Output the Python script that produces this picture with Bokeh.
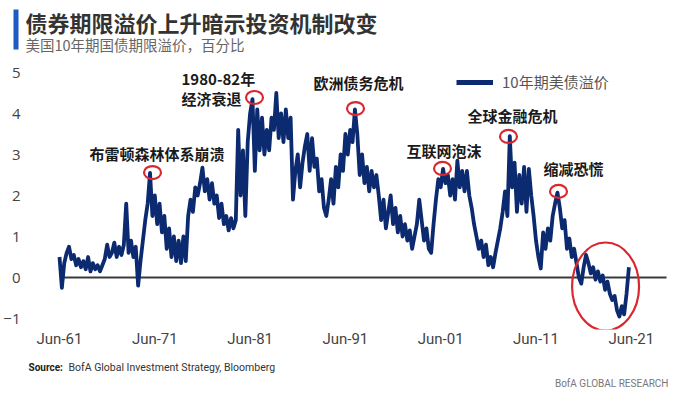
from bokeh.plotting import figure
from bokeh.layouts import column
from bokeh.models import (Label, BoxAnnotation, FixedTicker, Legend, LegendItem, Range1d)
from bokeh.embed import file_html
from bokeh.resources import INLINE

# ---------------- data ----------------
start_year = 1961.5   # Jun-1961
step = 0.25           # quarterly observations

term_premium = [
    0.5, -0.25,                 # 1961
    0.35, 0.6, 0.75, 0.45,      # 1962
    0.55, 0.3, 0.45, 0.25,      # 1963
    0.4, 0.2, 0.5, 0.15,        # 1964
    0.35, 0.2, 0.3, 0.15,       # 1965
    0.3, 0.45, 0.8, 0.5,        # 1966
    0.6, 0.85, 0.5, 0.75,       # 1967
    0.55, 0.8, 1.8, 0.6,        # 1968
    0.9, 0.5, 0.75, -0.2,       # 1969
    0.4, 0.9, 1.4, 1.8,         # 1970
    2.55, 1.5, 2.0, 1.3,        # 1971
    1.8, 1.1, 1.5, 0.7,         # 1972
    1.2, 0.5, 1.0, 0.4,         # 1973
    0.9, 0.35, 1.0, 0.4,        # 1974
    1.5, 1.9, 1.6, 2.2,         # 1975
    2.0, 2.3, 2.68, 2.1,        # 1976
    2.4, 1.9, 2.3, 1.8,         # 1977
    2.0, 1.45, 1.8, 1.3,        # 1978
    1.5, 1.15, 1.45, 1.2,       # 1979
    1.4, 3.6, 2.0, 3.1,         # 1980
    1.5, 3.3, 4.0, 4.35,        # 1981
    2.6, 4.1, 3.1, 3.9,         # 1982
    3.0, 3.6, 3.1, 3.9,         # 1983
    3.6, 4.5, 3.4, 4.0,         # 1984
    3.3, 4.1, 3.4, 3.9,         # 1985
    1.9, 2.6, 3.0, 2.2,         # 1986
    2.8, 3.2, 3.5, 2.6,         # 1987
    3.4, 2.7, 2.9, 2.1,         # 1988
    2.4, 1.7, 1.5, 1.9,         # 1989
    2.4, 1.8, 2.7, 2.2,         # 1990
    3.0, 2.6, 3.5, 3.0,         # 1991
    3.6, 3.3, 4.1, 3.5,         # 1992
    2.5, 3.0, 2.3, 2.7,         # 1993
    2.1, 2.6, 2.2, 2.5,         # 1994
    2.0, 1.4, 1.9, 1.2,         # 1995
    1.6, 2.0, 1.3, 1.7,         # 1996
    1.1, 1.5, 1.0, 1.3,         # 1997
    0.9, 1.15, 0.7, 1.0,        # 1998
    1.3, 1.9, 1.4, 0.9,         # 1999
    1.2, 0.7, 0.6, 1.3,         # 2000
    1.9, 2.4, 2.2, 2.65,        # 2001
    2.3, 2.5, 2.0, 2.4,         # 2002
    1.9, 2.85, 2.2, 2.6,        # 2003
    2.1, 2.6, 2.0, 1.7,         # 2004
    1.3, 1.0, 0.7, 0.9,         # 2005
    0.5, 0.8, 0.3, 0.5,         # 2006
    0.25, 0.6, 0.9, 1.2,        # 2007
    1.6, 2.1, 1.5, 3.45,        # 2008
    2.2, 2.8, 1.6, 2.5,         # 2009
    1.8, 2.7, 1.6, 2.65,        # 2010
    2.0, 1.5, 0.9, 0.5,         # 2011
    0.22, 1.1, 0.7, 1.2,        # 2012
    0.9, 1.5, 1.8, 2.07,        # 2013
    1.7, 1.2, 1.4, 0.7,         # 2014
    0.95, 0.5, 0.7, 0.35,       # 2015
    0.0, -0.15, 0.25, 0.55,     # 2016
    0.35, 0.1, 0.25, -0.05,     # 2017
    0.15, -0.1, 0.05, -0.3,     # 2018
    -0.1, -0.4, -0.55, -0.45,   # 2019
    -0.8, -0.95, -0.7, -0.9,    # 2020
    -0.4, 0.25,                 # 2021
]
years = [start_year + step * i for i in range(len(term_premium))]

tick_years = [1961.5, 1971.5, 1981.5, 1991.5, 2001.5, 2011.5, 2021.5]
tick_labels = ["Jun-61", "Jun-71", "Jun-81", "Jun-91", "Jun-01", "Jun-11", "Jun-21"]
y_ticks = [-1, 0, 1, 2, 3, 4, 5]

event_labels = ["布雷顿森林体系崩溃", "1980-82年\n经济衰退", "欧洲债务危机",
                "互联网泡沫", "全球金融危机", "缩减恐慌"]
event_years = [1971.26, 1981.96, 1992.56, 2001.69, 2008.61, 2013.86]
event_values = [2.56, 4.39, 4.12, 2.66, 3.44, 2.10]
recent_year = [2018.8]
recent_value = [-0.22]

title_text = "债券期限溢价上升暗示投资机制改变"
subtitle_text = "美国10年期国债期限溢价，百分比"
legend_text = "10年期美债溢价"
source_bold = "Source:"
source_text = "BofA Global Investment Strategy, Bloomberg"
brand_text = "BofA GLOBAL RESEARCH"

# ---------------- layout ----------------
W = 681
HEAD_H, MAIN_H, FOOT_H = 54, 296, 46          # stacked heights (page 0-54, 54-350, 350-396)
FR_LEFT, FR_RIGHT, FR_TOP, FR_BOTTOM = 50, 668, 58, 329   # main frame in page pixels
PX_PER_UNIT = 41.0
Y5_PX = 72.0
X0_PX, PX_PER_YEAR = 59.0, 9.53

def sx(px):
    return px - FR_LEFT
def sy(py):
    return FR_BOTTOM - py

x_start = start_year - (X0_PX - FR_LEFT) / PX_PER_YEAR
x_end = start_year + (FR_RIGHT - X0_PX) / PX_PER_YEAR
y_end = 5 + (Y5_PX - FR_TOP) / PX_PER_UNIT
y_start = 5 - (FR_BOTTOM - Y5_PX) / PX_PER_UNIT

NAVY = "#0b2a6f"
RED = "#d9282f"
CJK = "Noto Sans CJK SC"

def blank_fig(h, y0, y1):
    f = figure(width=W, height=h, output_backend="svg", toolbar_location=None, title=None,
               x_range=Range1d(0, W), y_range=Range1d(y1, y0),
               x_axis_type=None, y_axis_type=None, frame_align=False,
               min_border_left=0, min_border_right=0, min_border_top=0, min_border_bottom=0)
    f.outline_line_color = None
    f.background_fill_color = "white"
    f.border_fill_color = "white"
    return f

# ---- header ----
head = blank_fig(HEAD_H, 0, HEAD_H)
head.add_layout(BoxAnnotation(left=13, right=18, top=9, bottom=49,
                              fill_color="#1f5bc4", fill_alpha=1, line_color=None))
head.add_layout(Label(x=25, y=21, text=title_text, text_font=CJK, text_font_size="22px",
                      text_font_style="bold", text_color="#333333", text_baseline="middle"))
head.add_layout(Label(x=25, y=44, text=subtitle_text, text_font=CJK, text_font_size="14.5px",
                      text_color="#666666", text_baseline="middle"))

# ---- main chart ----
p = figure(width=W, height=MAIN_H, output_backend="svg", toolbar_location=None, title=None,
           x_range=Range1d(x_start, x_end), y_range=Range1d(y_start, y_end),
           frame_align=False,
           min_border_left=FR_LEFT, min_border_right=W - FR_RIGHT,
           min_border_top=FR_TOP - HEAD_H, min_border_bottom=HEAD_H + MAIN_H - FR_BOTTOM)
p.outline_line_color = None
p.xgrid.grid_line_color = None
p.ygrid.grid_line_color = None
p.background_fill_color = "white"
p.border_fill_color = "white"

p.yaxis.ticker = FixedTicker(ticks=y_ticks)
p.yaxis.axis_line_color = None
p.yaxis.major_tick_line_color = None
p.yaxis.minor_tick_line_color = None
p.yaxis.major_tick_out = 0
p.yaxis.major_tick_in = 0
p.yaxis.major_label_standoff = 30
p.yaxis.major_label_text_font = "Open Sans"
p.yaxis.major_label_text_font_size = "15px"
p.yaxis.major_label_text_color = "#444444"

p.xaxis.ticker = FixedTicker(ticks=tick_years)
p.xaxis.major_label_overrides = {t: l for t, l in zip(tick_years, tick_labels)}
p.xaxis.axis_line_color = None
p.xaxis.major_tick_line_color = None
p.xaxis.minor_tick_line_color = None
p.xaxis.major_tick_out = 0
p.xaxis.major_tick_in = 0
p.xaxis.major_label_standoff = 0
p.xaxis.major_label_text_font = "Roboto"
p.xaxis.major_label_text_font_size = "15px"
p.xaxis.major_label_text_color = "#444444"

# zero line
p.segment(x0=[1961.8], y0=[0], x1=[2025.2], y1=[0], line_color="#3a3a3a", line_width=2.2)

# series
line_r = p.line(years, term_premium, line_color=NAVY, line_width=3.8, line_join="round")

# event circles
p.ellipse(x=event_years, y=event_values, width=17, height=13,
          width_units="screen", height_units="screen",
          fill_color=None, line_color=RED, line_width=2.2)
p.ellipse(x=recent_year, y=recent_value, width=67, height=88,
          width_units="screen", height_units="screen",
          fill_color=None, line_color=RED, line_width=2.2)

# event labels
label_pos = [(89, 153), (181, 88), (313, 82), (406, 150), (467, 115), (543, 168)]
for txt, (px, py) in zip(event_labels, label_pos):
    lines = txt.split("\n")
    for k, ln in enumerate(lines):
        yy = py if len(lines) == 1 else (py - 10 + 20 * k)
        p.add_layout(Label(x=sx(px), y=sy(yy), x_units="screen", y_units="screen",
                           text=ln, text_font=CJK, text_font_size="15px",
                           text_font_style="bold", text_color="#1a1a1a",
                           text_align="left", text_baseline="middle"))

# legend (off-range renderer gives a thicker swatch)
leg_r = p.line([1900, 1901], [0, 0], line_color=NAVY, line_width=5)
legend = Legend(items=[LegendItem(label=legend_text, renderers=[leg_r])],
                location=(sx(456), sy(92)), glyph_width=37, glyph_height=20,
                label_standoff=9, padding=0, margin=0, spacing=0,
                border_line_color=None, background_fill_alpha=0,
                label_text_font=CJK, label_text_font_size="15px",
                label_text_color="#555555")
p.add_layout(legend)

# ---- footer ----
foot = blank_fig(FOOT_H, HEAD_H + MAIN_H, HEAD_H + MAIN_H + FOOT_H)
foot.add_layout(Label(x=28, y=367, text=source_bold, text_font="Roboto", text_font_size="10px",
                      text_font_style="bold", text_color="#222222", text_baseline="middle"))
foot.add_layout(Label(x=68, y=367, text=source_text, text_font="Roboto", text_font_size="10.5px",
                      text_color="#333333", text_baseline="middle"))
foot.add_layout(Label(x=668, y=383, text=brand_text, text_font="Roboto", text_font_size="10px",
                      text_color="#777777", text_align="right", text_baseline="middle"))

layout = column(head, p, foot, spacing=0)
open("out.html", "w").write(file_html(layout, INLINE))
